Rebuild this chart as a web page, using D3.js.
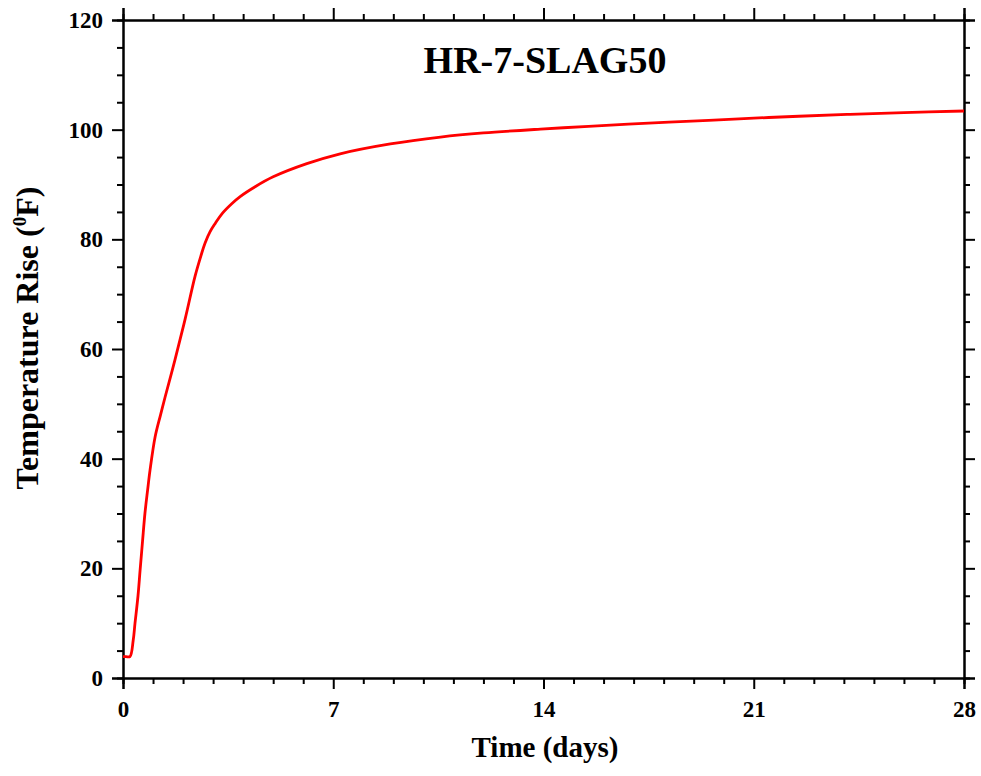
<!DOCTYPE html>
<html><head><meta charset="utf-8">
<script src="https://cdn.jsdelivr.net/npm/d3@7"></script>
<style>
body{margin:0;background:#fff;}
svg{display:block;}
text{font-family:"Liberation Serif","Times New Roman",serif;font-weight:bold;fill:#000;}
</style></head>
<body>
<svg id="c" width="981" height="776"></svg>
<script>
const days = [0, 0.1, 0.23, 0.34, 0.4, 0.5, 0.57, 0.65, 0.73, 0.82, 0.9, 1.07, 1.25, 1.4, 1.73, 2.07, 2.4, 2.6, 2.73, 2.9, 3.07, 3.3, 3.62, 3.9, 4.4, 5.0, 6.12, 7.23, 8.9, 10.57, 12, 13.9, 15.5, 17.5, 19.5, 21, 22.5, 24.2, 26, 28];
const rise = [3.9, 3.9, 3.9, 6.9, 10.0, 15, 19.7, 24.9, 30.0, 34.3, 37.9, 44.0, 48, 51.2, 58.0, 65.5, 73.3, 77.1, 79.3, 81.4, 82.9, 84.7, 86.5, 87.8, 89.6, 91.4, 93.8, 95.6, 97.4, 98.65, 99.4, 100.1, 100.6, 101.2, 101.7, 102.1, 102.45, 102.8, 103.1, 103.4];
const xMajor = [0, 7, 14, 21, 28];
const yMajor = [0, 20, 40, 60, 80, 100, 120];
const title = "HR-7-SLAG50";

const m = {l:123, t:20, r:17, b:98};
const W = 981, H = 776;
const iw = W - m.l - m.r, ih = H - m.t - m.b;
const svg = d3.select("#c");
const g = svg.append("g").attr("transform", `translate(${m.l},${m.t})`);
const x = d3.scaleLinear().domain([0, 28]).range([0, iw]);
const y = d3.scaleLinear().domain([0, 120]).range([ih, 0]);
const xMinor = d3.range(0, 29, 1).filter(v => !xMajor.includes(v));
const yMinor = d3.range(0, 121, 5).filter(v => !yMajor.includes(v));

function styleAxis(sel){
  sel.select(".domain").attr("stroke", "#000").attr("stroke-width", 2);
  sel.selectAll(".tick line").attr("stroke", "#000").attr("stroke-width", 2);
  sel.selectAll(".tick text").style("font-size", "23px");
}
// minor ticks
[[d3.axisBottom(x), `translate(0,${ih})`], [d3.axisTop(x), null]].forEach(([a, t]) => {
  const s = g.append("g").attr("transform", t).call(a.tickValues(xMinor).tickSize(6).tickFormat(""));
  styleAxis(s);
});
[[d3.axisLeft(y), null], [d3.axisRight(y), `translate(${iw},0)`]].forEach(([a, t]) => {
  const s = g.append("g").attr("transform", t).call(a.tickValues(yMinor).tickSize(6).tickFormat(""));
  styleAxis(s);
});
// major ticks
const xb = g.append("g").attr("transform", `translate(0,${ih})`)
  .call(d3.axisBottom(x).tickValues(xMajor).tickSize(11).tickPadding(12).tickFormat(d3.format("d")));
styleAxis(xb);
const xt = g.append("g").call(d3.axisTop(x).tickValues(xMajor).tickSize(12).tickFormat(""));
styleAxis(xt);
const yl = g.append("g")
  .call(d3.axisLeft(y).tickValues(yMajor).tickSize(11).tickPadding(9).tickFormat(d3.format("d")));
styleAxis(yl);
const yr = g.append("g").attr("transform", `translate(${iw},0)`)
  .call(d3.axisRight(y).tickValues(yMajor).tickSize(11).tickFormat(""));
styleAxis(yr);

// curve
g.append("path")
  .datum(days.map((d, i) => [d, rise[i]]))
  .attr("fill", "none").attr("stroke", "#ff0000").attr("stroke-width", 2.8)
  .attr("stroke-linejoin", "round")
  .attr("d", d3.line().x(d => x(d[0])).y(d => y(d[1])).curve(d3.curveCatmullRom.alpha(0.5)));

// title
svg.append("text").attr("x", 545).attr("y", 73).attr("text-anchor", "middle")
  .style("font-size", "38px").text(title);
// x label
svg.append("text").attr("x", 545).attr("y", 757).attr("text-anchor", "middle")
  .style("font-size", "29px").text("Time (days)");
// y label
const yt = svg.append("text").attr("transform", "translate(38,338) rotate(-90)")
  .attr("text-anchor", "middle").style("font-size", "32px");
yt.append("tspan").text("Temperature Rise (");
yt.append("tspan").attr("dy", -12).style("font-size", "19px").text("0");
yt.append("tspan").attr("dy", 12).text("F)");
</script>
</body></html>
